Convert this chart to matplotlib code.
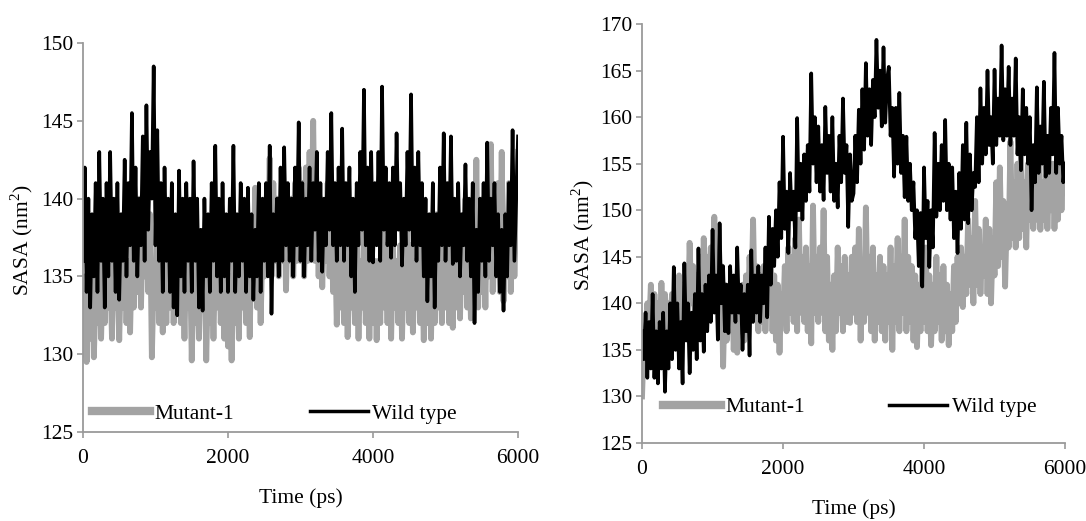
import matplotlib
matplotlib.use('Agg')
import matplotlib.pyplot as plt

plt.rcParams['font.family'] = ['Liberation Serif', 'DejaVu Serif']
plt.rcParams['mathtext.fontset'] = 'custom'
plt.rcParams['mathtext.rm'] = 'Liberation Serif'

# time axis, one sample every 25 ps
time_ps = list(range(0, 6001, 25))

# left panel (one row = 500 ps)
left_mutant = [
    130, 135, 129.5, 134, 131, 136, 129.8, 134, 132, 137, 131, 136, 132, 138, 133, 136, 131, 137, 133, 136,
    130.9, 136, 133, 137, 132, 136, 131.4, 137, 133, 138, 134, 140, 133, 138, 135, 139, 134, 139, 129.8, 135,
    133, 139, 132, 137, 131.4, 136, 132, 137, 133, 138, 132, 137, 133, 138, 132, 136, 131, 137, 133, 137,
    129.6, 135, 132, 137, 131, 136, 133, 138, 129.6, 135, 132, 136, 131, 137, 133, 138, 132, 136, 131, 136,
    130.5, 135, 129.6, 136, 132, 137, 131, 138, 133, 137, 132, 136, 131.1, 138, 134, 140.7, 133, 138, 132, 137,
    135, 140, 136, 142.6, 135, 141, 136, 140, 135, 139, 136, 141, 134.1, 139, 136, 140, 135, 141, 136, 142,
    136, 141, 135, 142, 136, 143, 137, 145, 136, 141, 135, 140, 134.3, 139, 136, 141, 135, 139, 134, 138,
    131.9, 137, 133, 138, 132, 137, 131.1, 136, 133, 138, 132, 137, 131, 136, 133, 138, 132, 137, 131, 137,
    132, 136, 130.9, 136, 132, 139, 133, 137, 132, 138, 131, 137, 133, 136, 132, 137, 131, 136, 133, 138,
    132, 137, 131.4, 136, 133, 139, 132, 136, 130.9, 137, 132, 138, 131, 137, 132, 139, 133, 137, 132, 139,
    133, 138, 132, 137, 131.7, 138, 133, 139, 132.3, 138, 134, 140, 133, 138, 132.3, 139, 134, 142.5, 133, 139,
    134, 140, 133, 141, 135, 143.5, 134, 140, 136, 141, 134, 143, 133.4, 139, 135, 141, 134, 140, 135, 139,
    143]
left_wild = [
    136, 142, 134, 140, 133, 139, 135, 141, 134, 143, 136, 140, 133, 141, 135, 143, 136, 140, 134, 141,
    133.5, 139, 136, 142.5, 135, 141, 137, 145.5, 136, 142, 135, 140, 137, 144, 136, 146, 138, 143, 140, 148.5,
    137, 144.4, 136, 141, 134, 142, 136, 140, 134, 141, 133, 139, 132.5, 141.8, 135, 140, 134, 141, 136, 140,
    134, 142.4, 136, 140, 133, 138, 132.8, 140, 135, 139, 134, 141, 136, 143.4, 135, 140, 134, 141, 135, 139,
    134, 140, 136, 143.4, 134, 139, 135, 141, 136, 140, 134, 140.7, 135, 139, 133.5, 138, 135, 141, 134, 140,
    136, 141, 135, 143.4, 132.6, 139, 136, 140, 135, 142, 136, 143.3, 137, 141, 136, 140, 135, 142, 137, 144.9,
    136, 141, 135, 140, 137, 142, 136, 141, 138, 143, 136, 141, 135.3, 140, 137, 143, 138, 145.5, 137, 141,
    136, 142, 137, 144.5, 136, 141, 137, 142, 135, 140, 134, 141, 137, 143, 138, 147.0, 137, 142, 136, 143,
    135.9, 141, 137, 143, 136, 147.2, 138, 142, 137, 141, 136.2, 142, 137, 144.2, 138, 141, 135.7, 140, 137, 143,
    138, 146.7, 137, 142, 136, 143, 137, 141, 135, 140, 133.4, 139, 135, 141, 133, 139, 136, 142, 137, 144.2,
    136, 141, 137, 144, 135.8, 140, 136, 141, 135, 139, 137, 142.2, 136, 140, 135, 141, 132, 138, 134, 140,
    136, 141, 135, 143.6, 136, 140, 137, 141, 135, 139, 134, 138, 132.8, 139, 135, 141, 137, 144.4, 136, 140,
    144]

# right panel (one row = 500 ps)
right_mutant = [
    130, 136, 133, 140, 137, 142, 136, 141, 137, 140, 136, 142.2, 137, 141, 136, 140, 137, 141, 136, 140,
    138, 143, 137.5, 142, 139, 144, 138, 146.5, 140, 144, 139, 143, 140, 145, 139, 147, 141, 145, 140, 146,
    142, 149.3, 141, 145, 139, 144, 133.2, 142, 136, 141, 137, 142, 135, 140, 134.7, 141, 137, 142, 136, 143,
    138, 145, 140, 149, 139, 144, 137, 143, 138, 144, 137, 142, 139, 145, 137, 143, 136, 142, 134.7, 141,
    138, 144, 137, 146, 139, 145, 138, 147, 137, 149, 139, 145, 138, 146, 137, 144, 135.7, 150.5, 139, 145,
    138, 146, 139, 150, 137, 145, 136, 142, 135, 143, 137, 146, 139, 144, 137, 145, 138, 143, 137.9, 145,
    139, 146, 138, 148, 136, 144, 138, 150.3, 139, 145, 137, 146, 136, 143, 138, 145, 137, 144, 136, 143,
    138, 146, 135, 144, 138, 147, 137, 145, 139, 149, 137, 145, 138, 144, 136, 143, 135.3, 142, 137, 144,
    138, 146, 137, 143, 135.5, 142, 137, 145, 138, 143, 136, 144, 137, 142, 135.5, 141, 137, 144, 138, 145,
    140, 146, 139.6, 145, 141, 149, 142, 147, 140, 151, 142, 148, 141, 146, 143, 149, 141, 148, 140, 147,
    143, 153, 144, 154.6, 145, 151, 141.8, 150, 146, 157.4, 147, 153, 146, 155, 147, 156, 148, 153, 146, 155,
    149, 156, 148, 154, 149, 155, 147.9, 153, 149, 155, 148, 154, 150, 155, 148, 154, 149, 156, 150, 155,
    155]
right_wild = [
    137, 134, 139, 132, 138, 133, 141, 132, 137, 131.4, 138, 133, 139, 130.5, 137, 133, 140, 134, 143.9, 135,
    140, 133, 138, 131.4, 144.3, 136, 140, 132.5, 139, 135, 141, 134, 145.9, 136, 141, 134.8, 142, 137, 143, 138,
    147.9, 139, 143, 136.1, 148.6, 140, 144, 137, 142, 136.8, 144, 139, 143, 138, 146, 139, 142, 135, 141, 137,
    142, 134.4, 145.7, 138, 143, 139, 144, 138, 143, 140, 146, 138.5, 149.3, 142, 148, 144, 150, 145, 153, 147,
    157.9, 148, 152, 145.4, 154, 149, 152, 146, 159.9, 150, 155, 149, 156, 151, 157, 152, 164.7, 155, 160, 153,
    159, 152, 157, 151.1, 161.1, 154, 158, 152, 160, 151, 155, 150.3, 158, 153, 162, 154, 157, 148.2, 156, 151,
    151.8, 158, 153, 160.8, 155, 163, 156.5, 165.8, 158, 163, 157, 164, 160, 168.3, 161, 165, 159, 167.5, 159.4, 164,
    165.4, 158, 161, 153.6, 161, 155, 162.6, 154, 158, 151.4, 157.9, 151, 155, 150, 153, 147, 150, 144, 149.7, 141.8,
    154.6, 147, 151, 143.9, 150, 146, 158.3, 149.3, 155, 150, 157, 151, 159.7, 150, 155, 149, 154.6, 147, 152, 145.4,
    154, 148, 157, 149, 159.4, 148.6, 156, 150, 154, 152.5, 160, 153, 163.1, 155, 161, 156, 165, 157, 160, 155,
    165.1, 157, 162, 158, 167.7, 157.5, 163, 158, 165.4, 157, 162, 158, 166.3, 156, 160, 154.3, 163, 156, 161, 155,
    160, 150, 157, 153, 163.2, 154, 159, 155, 163.8, 153.6, 158, 154, 161, 156, 166.9, 154, 161, 155, 158, 153,
    155]

x_ticks = [0, 2000, 4000, 6000]
left_yticks = [125, 130, 135, 140, 145, 150]
right_yticks = [125, 130, 135, 140, 145, 150, 155, 160, 165, 170]

grey = '#a3a3a3'
axis_grey = '#9a9a9a'


def draw_panel(ax, mutant, wild, yticks, leg_x, leg_y, colspace):
    ax.plot(time_ps, mutant, color=grey, lw=4.2, solid_joinstyle='round', label='Mutant-1')
    ax.plot(time_ps, wild, color='black', lw=2.6, solid_joinstyle='round', label='Wild type')
    ax.set_xlim(0, 6000)
    ax.set_ylim(yticks[0], yticks[-1])
    ax.set_xticks(x_ticks)
    ax.set_yticks(yticks)
    for s in ['top', 'right']:
        ax.spines[s].set_visible(False)
    for s in ['left', 'bottom']:
        ax.spines[s].set_color(axis_grey)
        ax.spines[s].set_linewidth(1.3)
    ax.tick_params(axis='both', direction='out', length=4, width=1.2, color=axis_grey, labelsize=15.5)
    ax.tick_params(axis='x', pad=8)
    ax.tick_params(axis='y', pad=3)
    ax.set_xlabel('Time (ps)', fontsize=15.5)
    ax.set_ylabel(r'SASA (nm$^{2}$)', fontsize=15.5)
    leg = ax.legend(ncol=2, loc='center left', bbox_to_anchor=(leg_x, leg_y), frameon=False,
                    fontsize=15.5, handlelength=2.7, handletextpad=0.2, columnspacing=colspace,
                    borderpad=0.0, borderaxespad=0.0)
    leg.get_lines()[0].set_linewidth(6)
    leg.get_lines()[1].set_linewidth(2.5)
    return leg


fig = plt.figure(figsize=(10.86, 5.21), dpi=100)

ax1 = fig.add_axes([0.0764, 0.1708, 0.4006, 0.7466])
draw_panel(ax1, left_mutant, left_wild, left_yticks, 0.021, 0.047, 3.5)
ax1.yaxis.set_label_coords(-0.11, 0.494)
ax1.xaxis.set_label_coords(0.5, -0.145)

ax2 = fig.add_axes([0.5912, 0.1497, 0.3895, 0.8042])
draw_panel(ax2, right_mutant, right_wild, right_yticks, 0.05, 0.085, 3.9)
ax2.yaxis.set_label_coords(-0.11, 0.496)
ax2.xaxis.set_label_coords(0.5, -0.135)

fig.savefig('out.png', dpi=100)
